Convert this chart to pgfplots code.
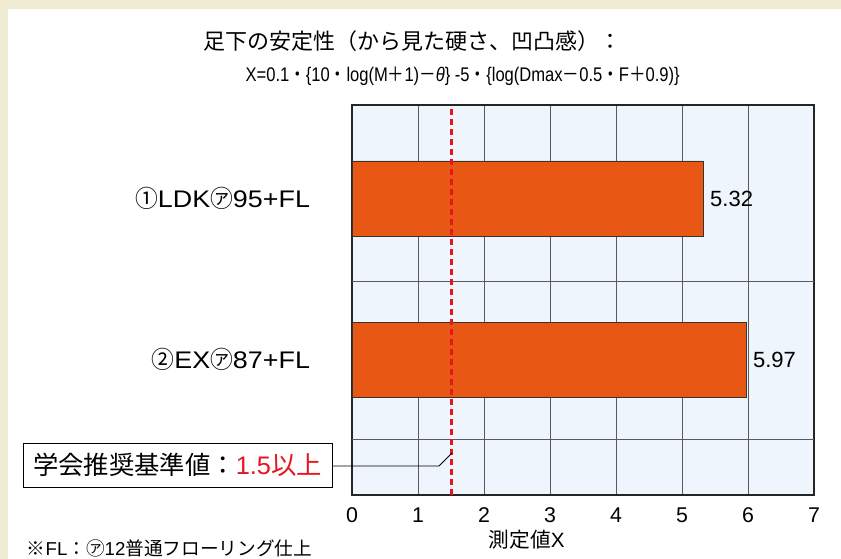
\documentclass[border=0pt]{standalone}
\usepackage{fontspec}
\setmainfont{Liberation Sans}
\newfontfamily\jp{Noto Sans CJK JP}
\newfontfamily\wide[FakeStretch=1.12]{Liberation Sans}
\newfontfamily\widejp[FakeStretch=0.95]{Noto Sans CJK JP}
\newfontfamily\narrow[FakeStretch=0.84]{Liberation Sans}
\newfontfamily\narrowjp[FakeStretch=0.84]{Noto Sans CJK JP}
\usepackage{pgfplots}
\pgfplotsset{compat=1.18}
\definecolor{cream}{RGB}{240,236,212}
\definecolor{plotbg}{RGB}{238,245,252}
\definecolor{barfill}{RGB}{232,87,20}
\definecolor{refred}{RGB}{232,20,30}
\definecolor{gridc}{RGB}{90,90,90}
\begin{document}
\begin{tikzpicture}
\fill[white] (0,0) rectangle (630.75pt,-419.25pt);
\fill[cream] (0,0) rectangle (630.75pt,-6.75pt);
\fill[cream] (0,0) rectangle (6pt,-419.25pt);
\begin{axis}[
  at={(264pt,-371.25pt)}, anchor=south west,
  scale only axis, width=346.5pt, height=292.5pt,
  xmin=0, xmax=7, ymin=0, ymax=390,
  xtick={0,...,7},
  ytick={135.5,296.5},
  yticklabels={{\widejp ②}EX{\widejp ㋐}87+FL,{\widejp ①}LDK{\widejp ㋐}95+FL},
  extra y ticks={56,214},
  extra y tick labels={},
  extra y tick style={ymajorgrids=true, major tick length=0pt},
  xmajorgrids,
  grid style={gridc, line width=0.75pt},
  major tick length=0pt,
  axis background/.style={fill=plotbg},
  axis line style={black!85, line width=0.9pt},
  /pgf/number format/assume math mode=true,
  xticklabel style={font=\fontsize{16}{16}\selectfont, yshift=-6pt},
  yticklabel style={font=\wide\fontsize{18}{18}\selectfont, xshift=-28pt},
  clip=false,
]
\addplot[xbar, bar width=75, fill=barfill, draw=black!80, line width=0.6pt,
  nodes near coords, point meta=x,
  nodes near coords style={font=\fontsize{16.5}{16.5}\selectfont, anchor=west, inner sep=0pt, xshift=5pt,
    /pgf/number format/.cd, fixed, fixed zerofill, precision=2, assume math mode=true}]
  coordinates {(5.32,296.5) (5.97,135.5)};
\addplot[refred, line width=2.25pt, dash pattern=on 4.5pt off 3pt] coordinates {(1.5,0) (1.5,390)};
\end{axis}
\draw[black, line width=0.6pt] (249pt,-349.5pt) -- (329.25pt,-349.5pt) -- (339pt,-339.75pt);
\draw[black, line width=0.75pt, fill=white] (17.25pt,-332.25pt) rectangle (249pt,-365.25pt);
\node[font=\fontsize{19}{19}\selectfont, inner sep=0pt] at (133.1pt,-348.75pt)
  {{\jp 学会推奨基準値：}\textcolor{refred}{1.5{\jp 以上}}};
\node[font=\jp\fontsize{16.5}{16.5}\selectfont, inner sep=0pt] at (309pt,-30.75pt)
  {足下の安定性（から見た硬さ、凹凸感）：};
\node[font=\narrow\fontsize{14.8}{14.8}\selectfont, inner sep=0pt] at (347pt,-57pt)
  {X=0.1{\narrowjp ・}\{10{\narrowjp ・}log(M{\narrowjp ＋}1){\narrowjp －}\textit{θ}\} -5{\narrowjp ・}\{log(Dmax{\narrowjp －}0.5{\narrowjp ・}F{\narrowjp ＋}0.9)\}};
\node[font=\fontsize{15.5}{15.5}\selectfont, inner sep=0pt] at (395pt,-405pt) {{\jp 測定値}X};
\node[font=\fontsize{14}{14}\selectfont, inner sep=0pt, anchor=west] at (20pt,-411pt)
  {{\jp ※}FL{\jp ：㋐}12{\jp 普通フローリング仕上}};
\end{tikzpicture}
\end{document}
